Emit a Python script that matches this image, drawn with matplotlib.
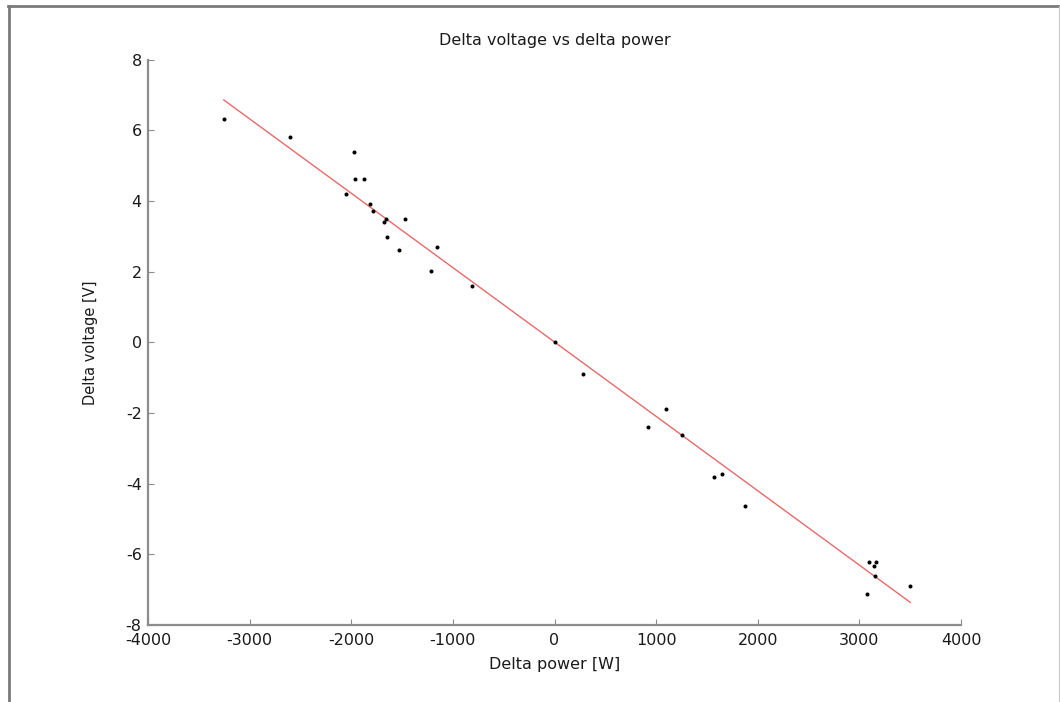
import matplotlib
matplotlib.use("Agg")
import matplotlib.pyplot as plt
import numpy as np
from matplotlib.lines import Line2D

# Measured changes in feeder power and the resulting voltage change
power = [-3254, -2598, -1974, -1962, -1876, -2050, -1814, -1784, -1660, -1673,
         -1473, -1647, -1526, -1155, -1214, -810, 0, 282, 919, 1099,
         1257, 1565, 1651, 1874, 3097, 3166, 3140, 3156, 3071, 3501]
voltage = [6.31, 5.81, 5.40, 4.62, 4.62, 4.19, 3.91, 3.71, 3.49, 3.41,
           3.49, 2.99, 2.60, 2.70, 2.01, 1.59, 0.0, -0.89, -2.40, -1.90,
           -2.61, -3.80, -3.72, -4.62, -6.21, -6.21, -6.33, -6.61, -7.11, -6.91]

# Least-squares line through the measurements
fit_slope = -0.002105
fit_intercept = 0.01

x_ticks = [-4000, -3000, -2000, -1000, 0, 1000, 2000, 3000, 4000]
y_ticks = [-8, -6, -4, -2, 0, 2, 4, 6, 8]

plt.rcParams['font.family'] = ['DejaVu Sans']

W, H = 1060, 702
fig = plt.figure(figsize=(W / 100, H / 100), dpi=100)
fig.patch.set_facecolor('white')

ax = fig.add_axes([148 / W, 1 - 625 / H, (961 - 148) / W, (625 - 59.7) / H])

fit_x = np.array([min(power), max(power)])
fit_y = fit_slope * fit_x + fit_intercept
ax.plot(fit_x, fit_y, color='#e66a6a', lw=1.0, zorder=2)
ax.plot(power, voltage, linestyle='none', marker='o', ms=2.9,
        mfc='black', mec='black', mew=0, zorder=3)

ax.set_xlim(-4000, 4000)
ax.set_ylim(-8, 8)
ax.set_xticks(x_ticks)
ax.set_yticks(y_ticks)
ax.set_xticklabels([str(v) for v in x_ticks])
ax.set_yticklabels([str(v) for v in y_ticks])

spine_col = '#8c8c8c'
for side in ('top', 'right'):
    ax.spines[side].set_visible(False)
for side in ('left', 'bottom'):
    ax.spines[side].set_color(spine_col)
    ax.spines[side].set_linewidth(1.6)

ax.tick_params(axis='both', direction='in', length=4.5, width=0.8,
               color=spine_col, labelcolor='#1a1a1a', labelsize=11.5)
ax.tick_params(axis='x', pad=6)
ax.tick_params(axis='y', pad=4.5)

ax.set_title('Delta voltage vs delta power', fontsize=11.5, color='#1a1a1a', pad=10.5)
ax.set_xlabel('Delta power [W]', fontsize=11.5, color='#1a1a1a')
ax.set_ylabel('Delta voltage [V]', fontsize=10.5, color='#1a1a1a')
ax.xaxis.set_label_coords(0.5, -0.056)
ax.yaxis.set_label_coords(-0.0615, 0.5)

# Window frame around the figure
fig.add_artist(Line2D([8 / W, 1.0], [1 - 6 / H, 1 - 6 / H], color='#7a7a7a', lw=2.0))
fig.add_artist(Line2D([9 / W, 9 / W], [0.0, 1 - 6 / H], color='#7a7a7a', lw=2.0))
fig.add_artist(Line2D([1058.5 / W, 1058.5 / W], [0.0, 1 - 6 / H], color='#c8c8c8', lw=0.8))

fig.savefig('out.png', dpi=100, facecolor='white')
